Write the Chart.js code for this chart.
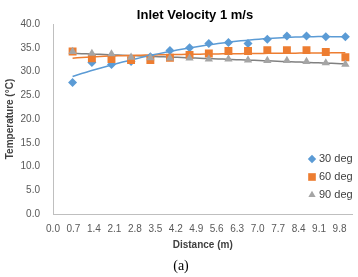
<!DOCTYPE html>
<html>
<head>
<meta charset="utf-8">
<script src="https://cdn.jsdelivr.net/npm/chart.js@4.4.0/dist/chart.umd.min.js"></script>
<style>
  html, body { margin: 0; padding: 0; background: #fff; }
  #wrap { width: 358px; height: 277px; }
</style>
</head>
<body>
<div id="wrap"><canvas id="tempChart" width="358" height="277"></canvas></div>
<script>
// values
const distance = [0.67, 1.33, 2.0, 2.67, 3.33, 4.0, 4.67, 5.33, 6.0, 6.67, 7.33, 8.0, 8.67, 9.33, 10.0];
const temp30 = [27.7, 31.9, 31.5, 32.1, 33.1, 34.4, 35.0, 35.9, 36.1, 35.9, 36.8, 37.5, 37.5, 37.3, 37.3];
const temp60 = [34.2, 32.8, 32.6, 32.4, 32.4, 32.9, 33.5, 33.8, 34.3, 34.3, 34.5, 34.5, 34.5, 34.1, 33.0];
const temp90 = [34.2, 33.8, 33.7, 33.0, 32.9, 32.8, 32.8, 32.6, 32.6, 32.4, 32.3, 32.3, 32.1, 31.8, 31.5];
const seriesNames = ['30 deg', '60 deg', '90 deg'];
const xTickLabels = [0.0, 0.7, 1.4, 2.1, 2.8, 3.5, 4.2, 4.9, 5.6, 6.3, 7.0, 7.7, 8.4, 9.1, 9.8];
const yTickLabels = [0, 5, 10, 15, 20, 25, 30, 35, 40];
const chartTitle = 'Inlet Velocity 1 m/s';
const xTitle = 'Distance (m)';
const yTitle = 'Temperature (°C)';
const caption = '(a)';

const colors = ['#5B9BD5', '#ED7D31', '#A5A5A5'];
const trendColors = ['#5B9BD5', '#ED7D31', '#808080'];
const pointStyles = ['rectRot', 'rect', 'triangle'];
const pointSizes = [4.5, 5.6, 4.8];

// least squares trendline: polynomial of given order, optionally in ln(x)
function trendLine(xs, ys, order, useLog) {
    const tx = xs.map(x => useLog ? Math.log(x) : x);
    const m = order + 1;
    const A = [];
    for (let r = 0; r < m; r++) {
        A.push(new Array(m + 1).fill(0));
        for (let c = 0; c < m; c++) {
            A[r][c] = tx.reduce((s, x) => s + Math.pow(x, r + c), 0);
        }
        A[r][m] = tx.reduce((s, x, i) => s + Math.pow(x, r) * ys[i], 0);
    }
    // gaussian elimination
    for (let p = 0; p < m; p++) {
        for (let r = p + 1; r < m; r++) {
            const f = A[r][p] / A[p][p];
            for (let c = p; c <= m; c++) A[r][c] -= f * A[p][c];
        }
    }
    const coef = new Array(m).fill(0);
    for (let r = m - 1; r >= 0; r--) {
        let s = A[r][m];
        for (let c = r + 1; c < m; c++) s -= A[r][c] * coef[c];
        coef[r] = s / A[r][r];
    }
    const pts = [];
    const x0 = Math.min(...xs), x1 = Math.max(...xs);
    for (let k = 0; k <= 60; k++) {
        const x = x0 + (x1 - x0) * k / 60;
        const t = useLog ? Math.log(x) : x;
        pts.push({ x, y: coef.reduce((s, a, j) => s + a * Math.pow(t, j), 0) });
    }
    return pts;
}

const seriesValues = [temp30, temp60, temp90];
const trendOrder = [2, 1, 1];
const trendIsLog = [false, true, false];

const datasets = [];
seriesValues.forEach((vals, i) => {
    datasets.push({
        label: seriesNames[i],
        data: distance.map((x, j) => ({ x, y: vals[j] })),
        showLine: false,
        pointStyle: pointStyles[i],
        pointRadius: pointSizes[i],
        pointBackgroundColor: colors[i],
        pointBorderColor: colors[i],
        pointBorderWidth: 0,
        order: 3 - i
    });
});
seriesValues.forEach((vals, i) => {
    datasets.push({
        label: seriesNames[i] + ' trend',
        data: trendLine(distance, vals, trendOrder[i], trendIsLog[i]),
        showLine: true,
        borderColor: trendColors[i],
        borderWidth: 1.5,
        pointRadius: 0,
        tension: 0,
        order: 10 + i
    });
});

function drawMarker(ctx, style, x, y, r, color) {
    ctx.save();
    ctx.fillStyle = color;
    ctx.beginPath();
    if (style === 'rectRot') {
        ctx.moveTo(x, y - r); ctx.lineTo(x + r, y); ctx.lineTo(x, y + r); ctx.lineTo(x - r, y);
    } else if (style === 'rect') {
        const s = r * Math.SQRT1_2;
        ctx.rect(x - s, y - s, 2 * s, 2 * s);
    } else {
        ctx.moveTo(x, y - r);
        ctx.lineTo(x + r * 0.866, y + r * 0.5);
        ctx.lineTo(x - r * 0.866, y + r * 0.5);
    }
    ctx.closePath();
    ctx.fill();
    ctx.restore();
}

const extrasPlugin = {
    id: 'extras',
    beforeDraw(chart) {
        const ctx = chart.ctx;
        ctx.save();
        ctx.fillStyle = '#fff';
        ctx.fillRect(0, 0, chart.width, chart.height);
        ctx.restore();
    },
    afterDraw(chart) {
        const ctx = chart.ctx;
        ctx.save();
        // title
        ctx.fillStyle = '#000';
        ctx.font = 'bold 13px "Liberation Sans", Arial, sans-serif';
        ctx.textAlign = 'center';
        ctx.textBaseline = 'middle';
        ctx.fillText(chartTitle, 195, 15);
        // legend inside the plot
        ctx.font = '11px "Liberation Sans", Arial, sans-serif';
        ctx.textAlign = 'left';
        seriesNames.forEach((name, i) => {
            const y = 159 + i * 18;
            drawMarker(ctx, pointStyles[i], 312, y, i === 1 ? 5.4 : 4.2, colors[i]);
            ctx.fillStyle = '#404040';
            ctx.fillText(name, 319, y);
        });
        // caption
        ctx.fillStyle = '#000';
        ctx.font = '14px "Liberation Serif", "Times New Roman", serif';
        ctx.textAlign = 'center';
        ctx.fillText(caption, 181, 266);
        ctx.restore();
    }
};

const tickColor = '#595959';
const axisColor = '#BFBFBF';

new Chart(document.getElementById('tempChart'), {
    type: 'scatter',
    data: { datasets },
    options: {
        responsive: false,
        animation: false,
        devicePixelRatio: 1,
        layout: { padding: { top: 24, right: 3, bottom: 20, left: 0 } },
        plugins: {
            legend: { display: false },
            tooltip: { enabled: false },
            title: { display: false }
        },
        scales: {
            x: {
                type: 'linear',
                min: 0,
                max: 10.24,
                grid: { display: false, drawTicks: false },
                border: { display: true, color: axisColor, width: 1 },
                afterBuildTicks: scale => { scale.ticks = xTickLabels.map(v => ({ value: v })); },
                afterFit: scale => { scale.height = 43; },
                ticks: {
                    autoSkip: false,
                    maxRotation: 0,
                    padding: 9,
                    color: tickColor,
                    font: { size: 10, family: '"Liberation Sans", Arial, sans-serif' },
                    callback: v => Number(v).toFixed(1)
                },
                title: {
                    display: true,
                    text: xTitle,
                    color: '#404040',
                    padding: { top: 0, bottom: 6 },
                    font: { size: 10, weight: 'bold', family: '"Liberation Sans", Arial, sans-serif' }
                }
            },
            y: {
                min: 0,
                max: 40,
                grid: { display: false, drawTicks: false },
                border: { display: true, color: axisColor, width: 1 },
                afterBuildTicks: scale => { scale.ticks = yTickLabels.map(v => ({ value: v })); },
                afterFit: scale => { scale.width = 53; },
                ticks: {
                    padding: 13,
                    color: tickColor,
                    font: { size: 10, family: '"Liberation Sans", Arial, sans-serif' },
                    callback: v => Number(v).toFixed(1)
                },
                title: {
                    display: true,
                    text: yTitle,
                    color: '#404040',
                    padding: { top: 4, bottom: 0 },
                    font: { size: 10, weight: 'bold', family: '"Liberation Sans", Arial, sans-serif' }
                }
            }
        }
    },
    plugins: [extrasPlugin]
});
</script>
</body>
</html>
